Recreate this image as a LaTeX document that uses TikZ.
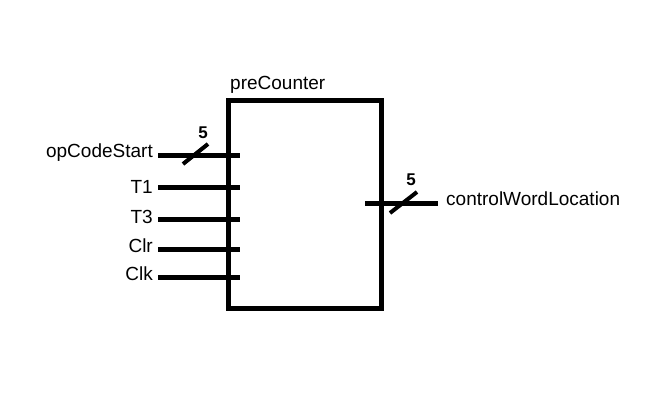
\documentclass[tikz,border=0pt]{standalone}
\usepackage{fontspec}
\setmainfont{Liberation Sans}
\begin{document}
\begin{tikzpicture}[x=1pt,y=-1pt,
  pinline/.style={line width=5pt},
  slashline/.style={line width=4pt},
  lbl/.style={inner sep=0pt,font=\fontsize{19}{22}\selectfont},
  busnum/.style={inner sep=0pt,font=\fontsize{17}{20}\selectfont\bfseries}]
\useasboundingbox[fill=white] (0,0) rectangle (668,416);
\node[draw,line width=5pt,inner sep=0pt,outer sep=0pt,minimum width=153pt,minimum height=208pt,anchor=north west] (box) at (228,100) {};
\node[lbl,anchor=base west] (title) at (230,89) {preCounter};
% inputs
\coordinate (a1) at (158,155); \coordinate (b1) at (240,155);
\coordinate (a2) at (158,187); \coordinate (b2) at (240,187);
\coordinate (a3) at (158,219); \coordinate (b3) at (240,219);
\coordinate (a4) at (158,249); \coordinate (b4) at (240,249);
\coordinate (a5) at (158,277); \coordinate (b5) at (240,277);
\foreach \i in {1,...,5} \draw[pinline] (a\i) -- (b\i);
\node[lbl,anchor=base east] (l1) at (153,157) {opCodeStart};
\node[lbl,anchor=base east] (l2) at (153,193) {T1};
\node[lbl,anchor=base east] (l3) at (153,223) {T3};
\node[lbl,anchor=base east] (l4) at (153,252) {Clr};
\node[lbl,anchor=base east] (l5) at (153,280) {Clk};
\coordinate (s1a) at (183,164); \coordinate (s1b) at (208,144);
\draw[slashline] (s1a) -- (s1b);
\node[busnum,anchor=base] (n1) at (203,138) {5};
% output
\coordinate (oa) at (365,203); \coordinate (ob) at (438,203);
\draw[pinline] (oa) -- (ob);
\coordinate (s2a) at (390,213); \coordinate (s2b) at (417,192);
\draw[slashline] (s2a) -- (s2b);
\node[busnum,anchor=base] (n2) at (411,185) {5};
\node[lbl,anchor=base west] (lo) at (446,205) {controlWordLocation};
\end{tikzpicture}
\end{document}
